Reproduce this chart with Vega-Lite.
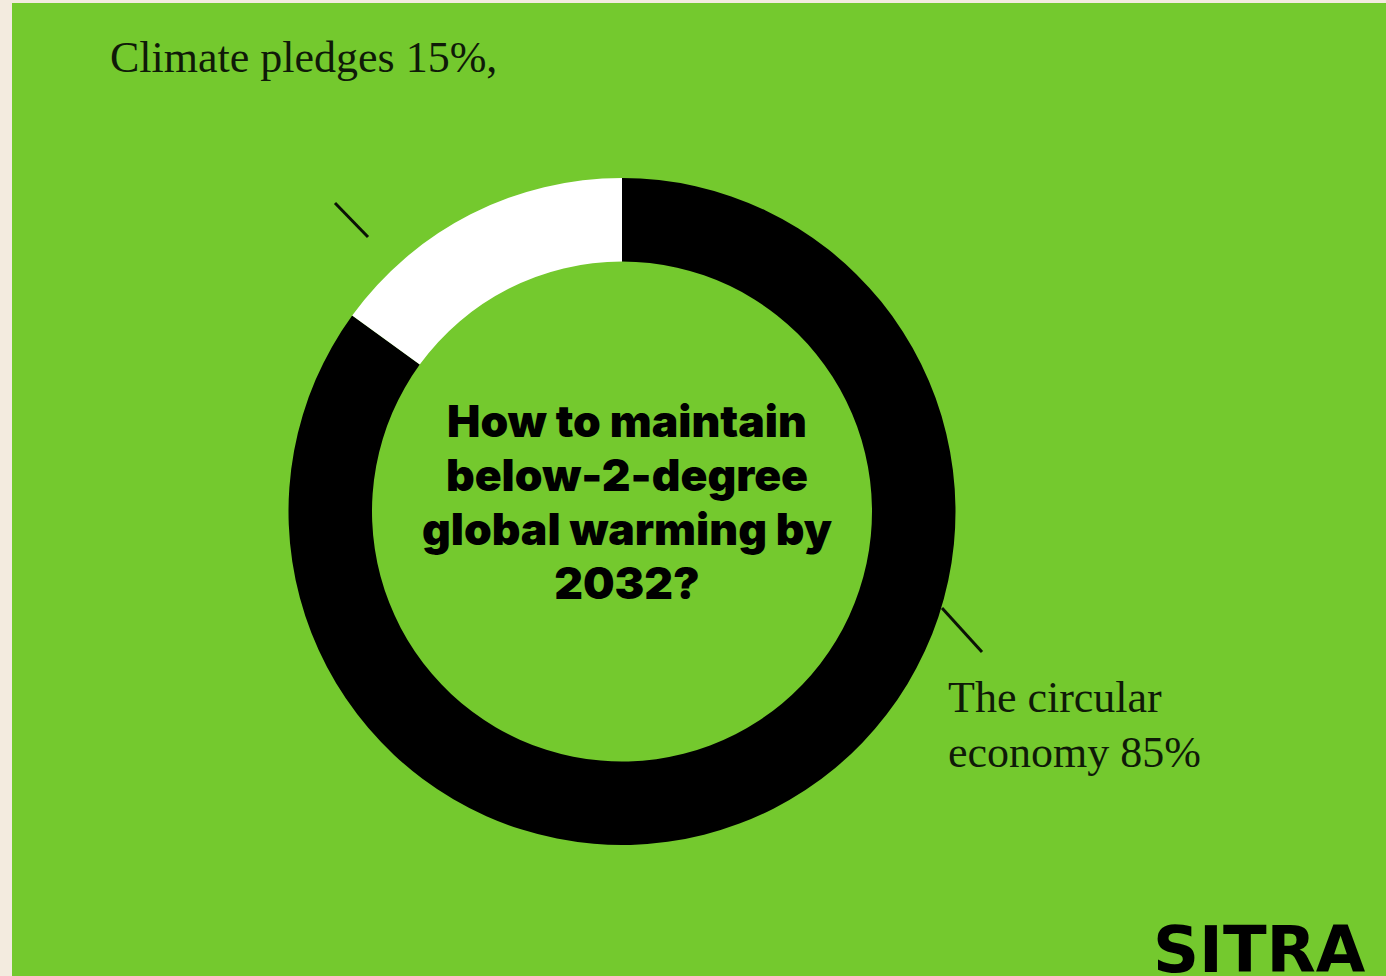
{
  "$schema": "https://vega.github.io/schema/vega-lite/v6.json",
  "width": 1386,
  "height": 976,
  "autosize": {"type": "fit", "contains": "padding"},
  "padding": {"left": 12, "top": 3, "right": 0, "bottom": 0},
  "background": "#F3EBDF",
  "config": {"view": {"stroke": null}},
  "layer": [
    {
      "data": {"values": [{}]},
      "mark": {"type": "rect", "fill": "#74C92E"},
      "encoding": {
        "x": {"value": 0},
        "y": {"value": 0},
        "x2": {"value": {"expr": "width + 40"}},
        "y2": {"value": {"expr": "height + 40"}}
      }
    },
    {
      "data": {"values": [
        {"segment": "The circular economy", "share": 85},
        {"segment": "Climate pledges", "share": 15}
      ]},
      "mark": {"type": "arc", "outerRadius": 333.5, "innerRadius": 250, "x": 610, "y": 508.5},
      "encoding": {
        "theta": {"field": "share", "type": "quantitative", "stack": true},
        "order": {"field": "share", "sort": "descending"},
        "color": {"field": "segment", "type": "nominal", "legend": null,
          "scale": {"domain": ["The circular economy", "Climate pledges"], "range": ["#000000", "#FFFFFF"]}}
      }
    },
    {
      "data": {"values": [{"label": "Climate pledges 15%,"}]},
      "mark": {"type": "text", "x": 98, "y": 69, "align": "left", "baseline": "alphabetic", "font": "Liberation Serif", "fontSize": 44, "color": "#0f1a08"},
      "encoding": {"text": {"field": "label"}}
    },
    {
      "data": {"values": [{"label": ["The circular", "economy 85%"]}]},
      "mark": {"type": "text", "x": 936, "y": 709, "align": "left", "baseline": "alphabetic", "font": "Liberation Serif", "fontSize": 44, "lineHeight": 55, "color": "#0f1a08"},
      "encoding": {"text": {"field": "label"}}
    },
    {
      "data": {"values": [{"label": ["How to maintain", "below-2-degree", "global warming by", "2032?"]}]},
      "mark": {"type": "text", "x": 615, "y": 434, "align": "center", "baseline": "alphabetic", "font": "Inter", "fontWeight": 900, "fontSize": 44.5, "lineHeight": 54, "color": "#000000"},
      "encoding": {"text": {"field": "label"}}
    },
    {
      "data": {"values": [{"label": "SITRA"}]},
      "mark": {"type": "text", "x": 1141, "y": 969, "align": "left", "baseline": "alphabetic", "font": "DejaVu Sans", "fontWeight": "bold", "fontSize": 64, "color": "#000000"},
      "encoding": {"text": {"field": "label"}}
    },
    {
      "data": {"values": [{}]},
      "mark": {"type": "rule", "stroke": "#0a1205", "strokeWidth": 3},
      "encoding": {
        "x": {"value": 323},
        "y": {"value": 200},
        "x2": {"value": 356},
        "y2": {"value": 234}
      }
    },
    {
      "data": {"values": [{}]},
      "mark": {"type": "rule", "stroke": "#0a1205", "strokeWidth": 3},
      "encoding": {
        "x": {"value": 930},
        "y": {"value": 605},
        "x2": {"value": 970},
        "y2": {"value": 649}
      }
    }
  ]
}
